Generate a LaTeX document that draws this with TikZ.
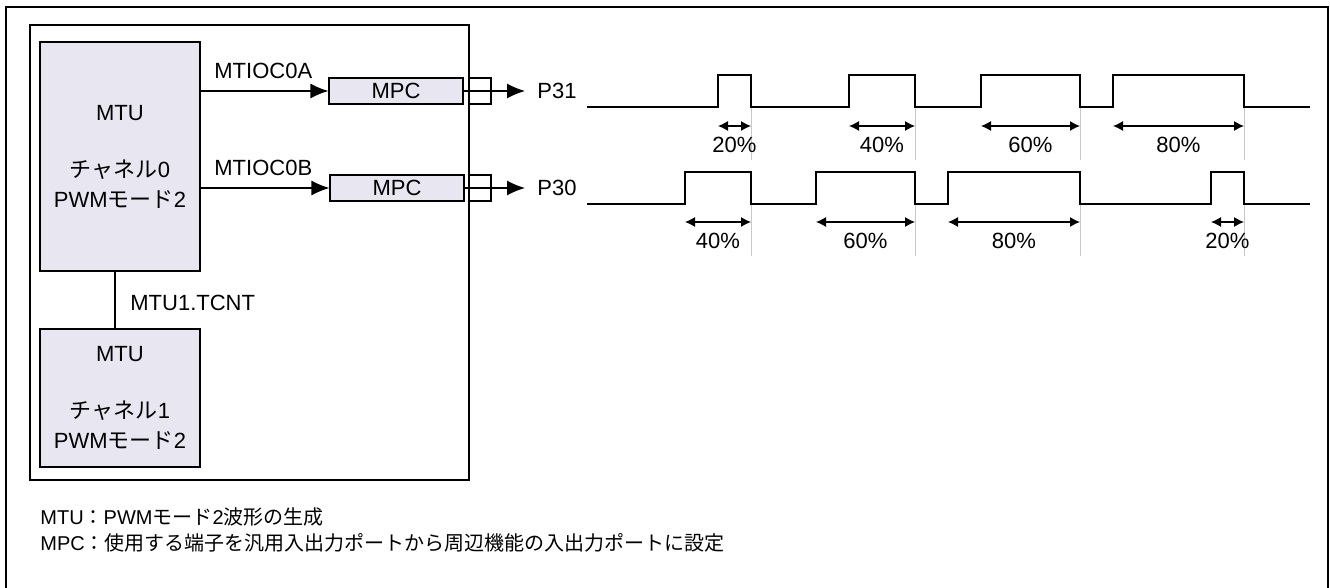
\documentclass[tikz,border=0pt]{standalone}
\usepackage{fontspec}
\setmainfont{Liberation Sans}
\newfontfamily\jp{Noto Sans CJK JP}
\usetikzlibrary{arrows.meta,
                positioning
            }
\definecolor{blockfill}{RGB}{232,230,240}
\definecolor{guidegray}{RGB}{200,200,200}

\begin{document}
\begin{tikzpicture}[x=0.5pt, y=-0.5pt,
        block/.style={draw, fill=blockfill, line width=0.6pt, align=center, font=\fontsize{11}{15}\selectfont},
        pin/.style={draw, line width=0.6pt, minimum width=11pt, minimum height=13pt, inner sep=0pt},
        lbl/.style={inner sep=0pt, font=\fontsize{11}{13}\selectfont},
        note/.style={inner sep=0pt, anchor=west, font=\fontsize{10}{12}\selectfont},
        sig/.style={line width=0.6pt, -{Latex[length=9pt, width=7.5pt]}},
        wave/.style={line width=0.8pt},
        dim/.style={line width=0.6pt, {Latex[length=5pt, width=5pt]}-{Latex[length=5pt, width=5pt]}},
        guide/.style={guidegray, line width=0.4pt}]
            \useasboundingbox (0,0) rectangle (1330,588);
            % frames
            \draw[line width=1.2pt] (6,588) -- (6,7) -- (1328,7) -- (1328,588);
            \draw[line width=0.6pt] (30,25) rectangle (469,480);
            % blocks
            \node[block, minimum width=80pt, minimum height=114.5pt] (mtu0) at (120,156.5) {MTU\\[13.5pt]{\jp チャネル}0\\PWM{\jp モード}2};
            \node[block, minimum width=80pt, minimum height=69pt] (mtu1) at (120,398) {MTU\\[13.5pt]{\jp チャネル}1\\PWM{\jp モード}2};
            \node[block, minimum width=67pt, minimum height=13pt, inner sep=0pt] (mpcA) at (396,91) {MPC};
            \node[block, minimum width=67pt, minimum height=13pt, inner sep=0pt] (mpcB) at (397,188) {MPC};
            \node[pin] (pinA) at (480,91) {};
            \node[pin] (pinB) at (480,188) {};
            \node[lbl, anchor=west] (p31) at (537,91) {P31};
            \node[lbl, anchor=west] (p30) at (537,188) {P30};
            \node[lbl, anchor=west] (sigA) at (214,71) {MTIOC0A};
            \node[lbl, anchor=west] (sigB) at (214,168) {MTIOC0B};
            \node[lbl, anchor=west] (tcnt) at (130,303) {MTU1.TCNT};
            % connections
            \draw[sig] (mtu0.east |- mpcA.west) -- (mpcA.west);
            \draw[sig] (mtu0.east |- mpcB.west) -- (mpcB.west);
            \draw[sig] (mpcA.east) -- ([xshift=-6pt]p31.west);
            \draw[sig] (mpcB.east) -- ([xshift=-6pt]p30.west);
            \draw[line width=0.6pt] ([xshift=-2.5pt]mtu0.south) -- ([xshift=-2.5pt]mtu1.north);
            % waveforms
            \foreach \a/\b/\p in {718/751/20, 849/915/40, 981/1080/60, 1113/1244/80} {
                \draw[guide] (\b,107) -- (\b,160);
                \draw[dim] (\a,126) -- (\b,126);
                \node[lbl] (topd\p) at ({(\a+\b)/2},145) {\p\%};
            }
            \foreach \a/\b/\p in {685/751/40, 816/915/60, 948/1080/80, 1211/1244/20} {
                \draw[guide] (\b,204) -- (\b,256);
                \draw[dim] (\a,222) -- (\b,222);
                \node[lbl] (botd\p) at ({(\a+\b)/2},241) {\p\%};
            }
            \draw[wave] (587,107) -- (718,107) -- (718,75) -- (751,75) -- (751,107) -- (849,107) -- (849,75) -- (915,75) -- (915,107)
                -- (981,107) -- (981,75) -- (1080,75) -- (1080,107) -- (1113,107) -- (1113,75) -- (1244,75) -- (1244,107) -- (1310,107);
            \draw[wave] (587,204) -- (685,204) -- (685,172) -- (751,172) -- (751,204) -- (816,204) -- (816,172) -- (915,172) -- (915,204)
                -- (948,204) -- (948,172) -- (1080,172) -- (1080,204) -- (1211,204) -- (1211,172) -- (1244,172) -- (1244,204) -- (1310,204);
            % notes
            \node[note] (noteA) at (40,517) {MTU{\jp ：}PWM{\jp モード}2{\jp 波形の生成}};
            \node[note] (noteB) at (40,543) {MPC{\jp ：使用する端子を汎用入出力ポートから周辺機能の入出力ポートに設定}};
        \end{tikzpicture}
\end{document}
